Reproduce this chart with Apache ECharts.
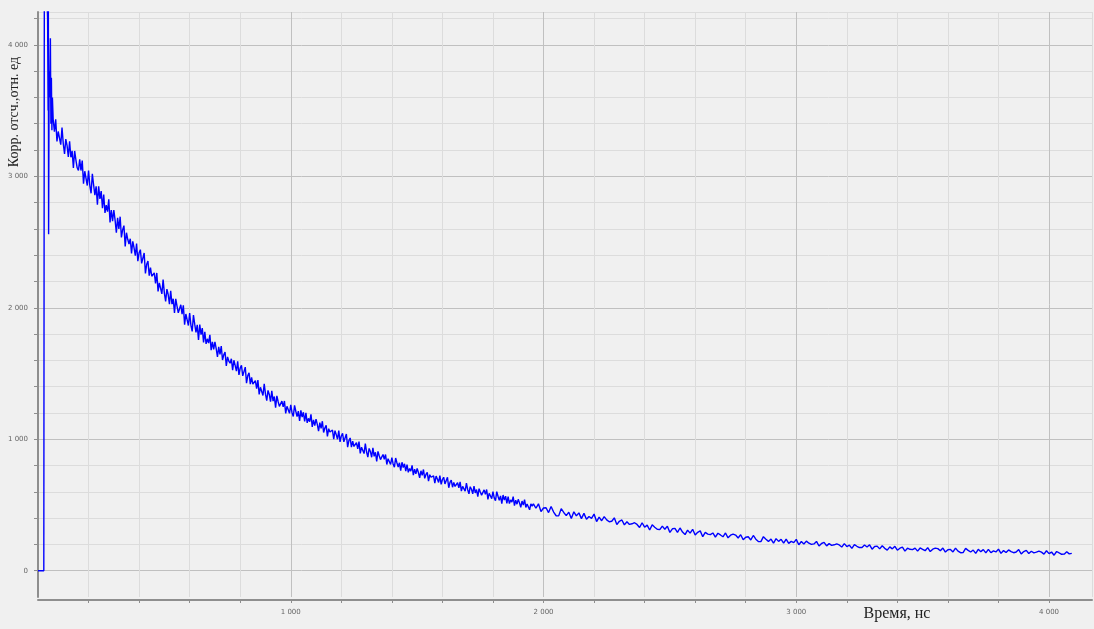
<!DOCTYPE html>
<html>
<head>
<meta charset="utf-8">
<script src="https://cdn.jsdelivr.net/npm/echarts@6/dist/echarts.min.js"></script>
<style>
    html, body {margin: 0; padding: 0; background: #f0f0f0;}
    #chartBox {width: 1094px; height: 629px;}
</style>
</head>
<body>
<div id="chartBox"></div>
<script>
// начало кривой (нс / отсчёты), неравномерный шаг
let headTimes = [0, 23, 25, 30, 35, 38, 40, 41, 42, 44, 46, 49, 51, 53, 55, 57]
let headValues = [0, 0, 4400, 4380, 4400, 4200, 3500, 4300, 2560, 3800, 3600, 4050, 3400, 3750, 3350, 3600]

// 60..1955 нс, шаг 5 нс
let earlyStart = 60
let earlyStep = 5
let earlyValues = [
    3434, 3339, 3433, 3265, 3341, 3345, 3241, 3371, 3248, 3171, 3283, 3233, 3147, 3267, 3145, 3194, 3063, 3193, 3124, 3065,
    3044, 3129, 3044, 3120, 2944, 3039, 3043, 2930, 3043, 2930, 2871, 3019, 2934, 2857, 2924, 2785, 2924, 2829, 2888, 2757,
    2862, 2722, 2781, 2731, 2825, 2650, 2744, 2658, 2744, 2667, 2572, 2684, 2599, 2693, 2535, 2594, 2625, 2467, 2571, 2521,
    2485, 2525, 2414, 2506, 2455, 2396, 2489, 2355, 2418, 2442, 2338, 2347, 2417, 2261, 2331, 2356, 2244, 2306, 2240, 2250,
    2265, 2185, 2265, 2125, 2189, 2192, 2106, 2214, 2112, 2048, 2142, 2101, 2028, 2129, 2028, 2069, 1960, 2068, 2012, 1962,
    1950, 2023, 1952, 2018, 1872, 1953, 1958, 1865, 1960, 1867, 1820, 1945, 1875, 1812, 1870, 1755, 1873, 1795, 1845, 1737,
    1818, 1725, 1764, 1731, 1794, 1677, 1740, 1683, 1740, 1689, 1627, 1702, 1645, 1708, 1603, 1642, 1663, 1558, 1627, 1594,
    1578, 1612, 1525, 1601, 1562, 1518, 1593, 1489, 1541, 1562, 1482, 1491, 1549, 1427, 1484, 1506, 1419, 1471, 1420, 1430,
    1446, 1385, 1450, 1341, 1395, 1400, 1333, 1422, 1343, 1294, 1372, 1341, 1286, 1369, 1290, 1325, 1241, 1330, 1287, 1250,
    1240, 1290, 1246, 1291, 1196, 1251, 1257, 1197, 1262, 1202, 1173, 1258, 1213, 1173, 1214, 1139, 1219, 1169, 1205, 1135,
    1200, 1125, 1159, 1134, 1189, 1094, 1148, 1103, 1153, 1113, 1062, 1127, 1082, 1137, 1051, 1086, 1106, 1021, 1080, 1055,
    1040, 1070, 1000, 1065, 1035, 1000, 1065, 980, 1025, 1045, 980, 990, 1040, 940, 990, 1010, 940, 985, 945, 955,
    975, 926, 982, 893, 939, 945, 891, 967, 903, 864, 930, 907, 863, 934, 870, 901, 832, 908, 874, 845,
    844, 884, 848, 884, 808, 852, 856, 808, 860, 812, 788, 857, 821, 789, 821, 761, 825, 785, 813, 757,
    807, 748, 777, 758, 802, 727, 772, 737, 778, 747, 707, 760, 725, 770, 703, 732, 748, 681, 730, 711,
    697, 722, 667, 720, 697, 671, 724, 657, 694, 711, 660, 669, 710, 631, 672, 689, 635, 672, 641, 650,
    669, 630, 676, 605, 642, 648, 605, 667, 616, 585, 639, 620, 585, 643, 592, 617, 563, 624, 598, 575,
    574, 615, 581, 618, 543, 589, 594, 548, 601, 554, 532, 601, 566, 536, 569, 511, 576, 537, 567, 512,
    564, 511, 538, 522, 563, 495, 536, 506, 543, 516, 482, 530, 499, 540, 481, 508, 523, 463, 508, 491
]

// 1960..4090 нс, шаг 10 нс
let lateStart = 1960
let lateStep = 10
let lateValues = [
    509, 475, 509, 450, 477, 479, 442, 488, 446, 418,
    417, 472, 443, 419, 445, 397, 448, 417, 440, 396,
    436, 391, 412, 398, 431, 374, 407, 380, 411, 387,
    372, 376, 402, 351, 376, 386, 349, 372, 352, 357,
    365, 352, 329, 365, 331, 347, 310, 349, 331, 315,
    313, 339, 315, 339, 291, 319, 322, 291, 325, 294,
    275, 309, 286, 315, 272, 292, 303, 259, 291, 278,
    274, 287, 256, 285, 272, 258, 287, 250, 270, 279,
    271, 249, 274, 235, 255, 258, 234, 268, 240, 222,
    221, 259, 240, 223, 241, 209, 244, 223, 239, 209,
    240, 208, 223, 214, 238, 197, 222, 203, 225, 209,
    200, 204, 223, 188, 207, 215, 189, 206, 193, 197,
    204, 196, 180, 206, 184, 195, 170, 198, 186, 176,
    177, 196, 180, 197, 164, 184, 187, 166, 190, 170,
    157, 181, 166, 186, 156, 171, 179, 149, 171, 163,
    160, 172, 149, 173, 163, 152, 176, 146, 164, 172,
    168, 152, 172, 142, 159, 162, 143, 172, 149, 137,
    138, 170, 155, 142, 157, 132, 163, 145, 160, 136,
    162, 137, 151, 143, 164, 132, 153, 138, 158, 145,
    137, 142, 161, 127, 146, 155, 131, 148, 136, 141,
    149, 141, 126, 152, 130, 142, 118, 146, 135, 125,
    126, 144, 128, 132
]

let yName = 'Корр. отсч.,отн. ед'
let xName = 'Время, нс'

function fmtThousands(v) {
    return String(v).replace(/\B(?=(\d{3})+(?!\d))/g, ' ')
}

function buildData() {
    let data = []
    for (let i = 0; i < headTimes.length; i++) {
        data.push([headTimes[i], headValues[i]])
    }
    for (let i = 0; i < earlyValues.length; i++) {
        data.push([earlyStart + i * earlyStep, earlyValues[i]])
    }
    for (let i = 0; i < lateValues.length; i++) {
        data.push([lateStart + i * lateStep, lateValues[i]])
    }
    return data
}

function setChart() {
    let chartBox = echarts.init(document.getElementById('chartBox'))
    let major = '#c0c0c0'
    let minor = '#dcdcdc'
    let option = {
        backgroundColor: '#f0f0f0',
        animation: false,
        grid: {left: 38, right: 2, top: 12, bottom: 32, containLabel: false},
        xAxis: {
            type: 'value', min: 0, max: 4170, interval: 200, offset: 3,
            axisLine: {show: true, onZero: false, lineStyle: {color: '#8e8e8e', width: 2}},
            axisTick: {show: true, length: 3, lineStyle: {color: '#8e8e8e'}},
            axisLabel: {
                fontSize: 7, color: '#666', fontFamily: 'DejaVu Sans', margin: 9,
                showMinLabel: false, showMaxLabel: false,
                formatter: function (v) { return (v > 0 && v % 1000 === 0) ? fmtThousands(v) : '' }
            },
            splitLine: {show: true, lineStyle: {color: [major, minor, minor, minor, minor], width: 1}}
        },
        yAxis: {
            type: 'value', min: -200, max: 4250, interval: 200,
            axisLine: {show: true, onZero: false, lineStyle: {color: '#8e8e8e', width: 2}},
            axisTick: {show: true, length: 4, lineStyle: {color: '#8e8e8e'}},
            axisLabel: {
                fontSize: 7, color: '#666', fontFamily: 'DejaVu Sans', margin: 10,
                showMinLabel: false, showMaxLabel: false,
                formatter: function (v) { return (v >= 0 && v % 1000 === 0) ? fmtThousands(v) : '' }
            },
            splitLine: {show: true, showMinLine: false, lineStyle: {color: [major, minor, minor, minor, minor], width: 1}}
        },
        graphic: [
            {
                type: 'text', x: 14, y: 112, rotation: Math.PI / 2,
                style: {text: yName, font: '14px "Liberation Serif"', fill: '#222', align: 'center', verticalAlign: 'middle'}
            },
            {
                type: 'text', x: 897, y: 614,
                style: {text: xName, font: '16px "Liberation Serif"', fill: '#222', align: 'center', verticalAlign: 'middle'}
            }
        ],
        series: [{
            type: 'line', data: buildData(), showSymbol: false, clip: true,
            lineStyle: {color: '#0000ff', width: 1.4},
            emphasis: {disabled: true}
        }]
    }
    chartBox.setOption(option, true)
}

setChart()
</script>
</body>
</html>
